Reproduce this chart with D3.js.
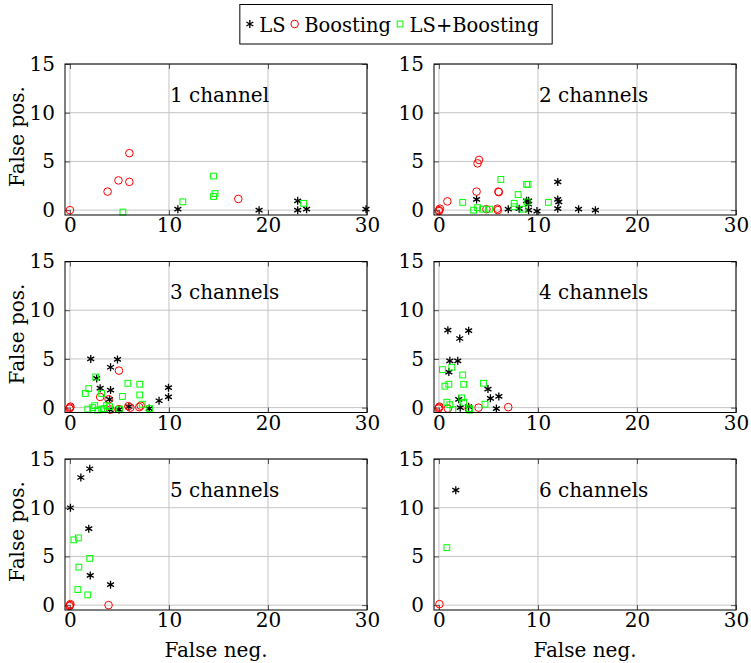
<!DOCTYPE html>
<html>
<head>
<meta charset="utf-8">
<script src="https://cdn.jsdelivr.net/npm/d3@7"></script>
<style>
  body { margin: 0; background: #fff; }
  svg { display: block; }
  text { font-family: 'DejaVu Serif', 'DejaVu Sans', sans-serif; fill: #000; }
</style>
</head>
<body>
<svg id="chart" width="751" height="663"></svg>
<script>
'use strict';

// data: [false neg., false pos.] per panel
let titles = ['1 channel', '2 channels', '3 channels', '4 channels', '5 channels', '6 channels'];
let seriesNames = ['LS', 'Boosting', 'LS+Boosting'];
let xTicks = [0, 10, 20, 30];
let yTicks = [0, 5, 10, 15];

let ls1 = [[10.9, 0.1], [19.1, 0], [23, 0.95], [23, 0], [23.9, 0.1], [29.9, 0.1]];
let boost1 = [[0, 0], [3.8, 1.9], [4.9, 3.05], [6, 5.85], [6, 2.9], [17, 1.15]];
let combo1 = [[5.35, -0.2], [11.4, 0.85], [14.5, 3.5], [14.65, 1.7], [14.5, 1.4], [23.6, 0.7]];

let ls2 = [[3.8, 1.1], [7, 0.1], [8.1, 0.15], [8.85, 0.95], [9.05, 0.95], [9.05, 0.6], [9.05, 0],
    [9.9, -0.1], [12, 2.9], [12, 1.1], [12.1, 0.85], [12, 0.15], [14.1, 0.1], [15.8, 0]];
let boost2 = [[0, 0], [0.1, 0.15], [0, -0.1], [0.85, 0.9], [3.8, 1.9], [3.9, 4.8], [4.05, 5.15],
    [6, 1.9], [6.05, 1.85], [4.8, 0.1], [5.9, 0.15], [5.95, 0]];
let combo2 = [[2.4, 0.8], [3.5, 0], [3.9, 0.25], [4.4, 0.1], [5.1, 0.1], [6.25, 3.15], [8, 1.6],
    [7.6, 0.7], [7.6, 0.35], [8.5, 0.1], [8.85, 2.65], [9, 2.65], [8.9, 0.85], [11.05, 0.8]];

let ls3 = [[2.1, 5], [4.8, 4.95], [4.1, 4.15], [2.7, 3], [3.05, 2], [4.1, 1.8], [4, 0.85],
    [4, -0.2], [4.95, -0.2], [5.95, 0.1], [8, -0.1], [9, 0.7], [9.95, 1.1], [9.95, 2.05]];
let boost3 = [[0, 0], [0.05, 0.1], [-0.05, -0.1], [4.95, 3.8], [3.05, 1.1], [3.9, 0.85], [4.1, -0.2],
    [4.95, -0.15], [5.9, 0.15], [6.1, 0], [7, 0.05], [7.15, 0.2]];
let combo3 = [[1.55, 1.45], [1.9, 1.95], [2.6, 3.15], [3.2, 1.45], [1.8, -0.15], [2.3, 0], [2.5, 0.2],
    [2.8, -0.25], [3.2, -0.15], [3.5, -0.1], [3.7, 0.2], [5.85, 2.5], [7.05, 2.4], [7.05, 1.3],
    [5.3, 1.15], [5, -0.15], [7.3, 0.35], [8.05, -0.1], [4, 0.1]];

let ls4 = [[0.9, 7.95], [3, 7.9], [2.1, 7.1], [1.1, 4.8], [1.9, 4.8], [1, 3.65], [4.95, 1.9],
    [5.2, 0.95], [6.05, 1.15], [5.8, -0.1], [2, 0.85], [2.15, 0], [3, 0.1]];
let boost4 = [[0, 0], [0.05, 0.1], [-0.05, -0.1], [0.9, -0.1], [3, -0.1], [4, 0], [7, 0.05]];
let combo4 = [[0.35, 3.9], [1.3, 4.15], [0.6, 2.2], [1, 2.4], [2.4, 3.35], [2.5, 2.4], [4.5, 2.5],
    [0.8, 0.55], [1.1, 0.3], [1.4, -0.2], [2.3, 1], [2.5, 0.55], [3.1, -0.1], [3.1, -0.25], [4.65, 0.35]];

let ls5 = [[0.05, 10], [1.9, 7.85], [2.05, 3.05], [4.1, 2.1], [1.1, 13.1], [2, 14]];
let boost5 = [[0, 0], [0.05, 0.1], [-0.05, -0.1], [3.9, 0]];
let combo5 = [[0.4, 6.7], [0.85, 6.9], [2, 4.8], [0.9, 3.9], [0.8, 1.6], [1.8, 1.05]];

let ls6 = [[1.7, 11.8]];
let boost6 = [[0.05, 0.1]];
let combo6 = [[0.8, 5.9]];

let panels = [
    [ls1, boost1, combo1], [ls2, boost2, combo2],
    [ls3, boost3, combo3], [ls4, boost4, combo4],
    [ls5, boost5, combo5], [ls6, boost6, combo6]
];

// layout
let colLeft = [65, 434];
let rowTop = [64, 261.5, 459];
let pw = 302;
let ph = 151;
let fontSize = 20;

let svg = d3.select('#chart');

let x = d3.scaleLinear().domain([-0.5, 30]).range([0, pw]);
let y = d3.scaleLinear().domain([-0.5, 15]).range([ph, 0]);

let starPath = function(r) {
    let p = '';
    [90, 30, 150].forEach(function(a) {
        let dx = r * Math.cos(a * Math.PI / 180);
        let dy = r * Math.sin(a * Math.PI / 180);
        p += 'M' + (-dx) + ',' + dy + 'L' + dx + ',' + (-dy);
    });
    return p;
};

let drawMarker = function(g, type) {
    if (type === 0) {
        g.append('path').attr('d', starPath(4))
            .attr('stroke', '#000').attr('stroke-width', 1.3).attr('fill', 'none');
    } else if (type === 1) {
        g.append('circle').attr('r', 3.8)
            .attr('stroke', '#ff0000').attr('stroke-width', 1).attr('fill', 'none');
    } else {
        g.append('rect').attr('x', -2.9).attr('y', -2.9).attr('width', 5.8).attr('height', 5.8)
            .attr('stroke', '#00ff00').attr('stroke-width', 1).attr('fill', 'none');
    }
};

let styleAxis = function(g) {
    g.select('.domain').remove();
    g.selectAll('.tick line').attr('stroke', '#555');
    g.selectAll('.tick text')
        .attr('font-family', null)
        .attr('font-size', fontSize)
        .attr('fill', '#000');
};

panels.forEach(function(series, i) {
    let col = i % 2;
    let row = Math.floor(i / 2);
    let g = svg.append('g')
        .attr('class', 'panel panel-' + i)
        .attr('transform', 'translate(' + colLeft[col] + ',' + rowTop[row] + ')');

    // grid
    g.append('g')
        .attr('class', 'grid')
        .selectAll('line.gx')
        .data(xTicks).join('line')
        .attr('x1', d => x(d)).attr('x2', d => x(d))
        .attr('y1', 0).attr('y2', ph)
        .attr('stroke', '#c4c4c4').attr('stroke-width', 1);
    g.append('g')
        .attr('class', 'grid')
        .selectAll('line.gy')
        .data(yTicks).join('line')
        .attr('x1', 0).attr('x2', pw)
        .attr('y1', d => y(d)).attr('y2', d => y(d))
        .attr('stroke', '#c4c4c4').attr('stroke-width', 1);

    // inward ticks on all four sides, labels bottom and left
    g.append('g').attr('transform', 'translate(0,' + ph + ')')
        .call(d3.axisBottom(x).tickValues(xTicks).tickSize(-5).tickPadding(3))
        .call(styleAxis);
    g.append('g')
        .call(d3.axisTop(x).tickValues(xTicks).tickSize(-5).tickFormat(''))
        .call(styleAxis);
    g.append('g')
        .call(d3.axisLeft(y).tickValues(yTicks).tickSize(-5).tickPadding(10))
        .call(styleAxis);
    g.append('g').attr('transform', 'translate(' + pw + ',0)')
        .call(d3.axisRight(y).tickValues(yTicks).tickSize(-5).tickFormat(''))
        .call(styleAxis);

    // marks
    let clipId = 'clip-' + i;
    g.append('clipPath').attr('id', clipId)
        .append('rect').attr('x', -6).attr('y', -6).attr('width', pw + 12).attr('height', ph + 12);
    let marks = g.append('g').attr('clip-path', 'url(#' + clipId + ')');
    series.forEach(function(pts, s) {
        marks.selectAll('g.m' + s)
            .data(pts).join('g')
            .attr('class', 'm' + s)
            .attr('transform', d => 'translate(' + x(d[0]) + ',' + y(d[1]) + ')')
            .each(function() { drawMarker(d3.select(this), s); });
    });

    // frame
    g.append('rect')
        .attr('x', 0).attr('y', 0).attr('width', pw).attr('height', ph)
        .attr('fill', 'none').attr('stroke', '#000').attr('stroke-width', 1);

    // title
    g.append('text')
        .attr('x', x(10) + 1)
        .attr('y', y(11.1))
        .attr('font-size', fontSize)
        .text(titles[i]);

    if (col === 0) {
        g.append('text')
            .attr('transform', 'translate(' + (-48) + ',' + (ph / 2 - 3) + ') rotate(-90)')
            .attr('text-anchor', 'middle')
            .attr('dy', '0.35em')
            .attr('font-size', fontSize)
            .text('False pos.');
    }
    if (row === 2) {
        g.append('text')
            .attr('x', pw / 2)
            .attr('y', ph + 47)
            .attr('text-anchor', 'middle')
            .attr('font-size', fontSize)
            .text('False neg.');
    }
});

// legend
let legend = svg.append('g').attr('class', 'legend');
let box = legend.append('rect')
    .attr('y', 4.5).attr('height', 39.5)
    .attr('fill', '#fff').attr('stroke', '#000').attr('stroke-width', 1);
let cur = 6;
seriesNames.forEach(function(name, s) {
    let m = legend.append('g').attr('transform', 'translate(' + (cur + 4) + ',24)');
    drawMarker(m, s);
    let t = legend.append('text')
        .attr('x', cur + 13.5)
        .attr('y', 32)
        .attr('font-size', 19.5)
        .text(name);
    cur = cur + 13.5 + t.node().getComputedTextLength() + 5;
});
let legW = cur + 8;
box.attr('x', 0).attr('width', legW);
legend.attr('transform', 'translate(' + (396 - legW / 2) + ',0)');
</script>
</body>
</html>
